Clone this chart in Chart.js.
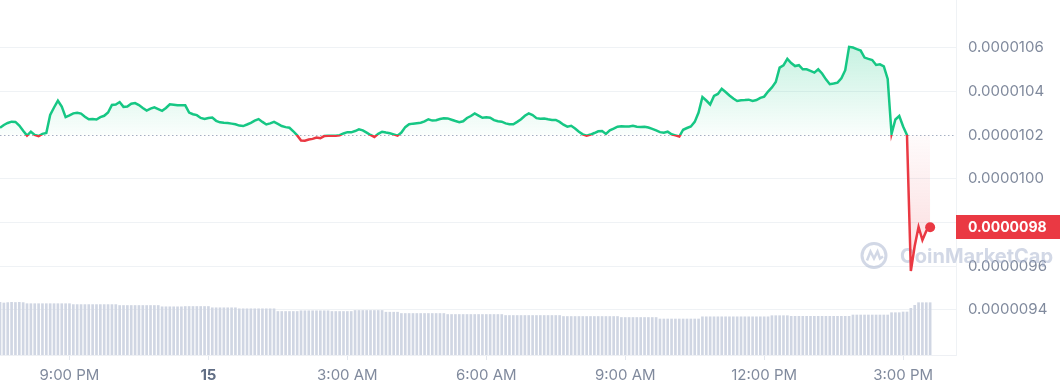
<!DOCTYPE html>
<html>
<head>
<meta charset="utf-8">
<script src="https://cdn.jsdelivr.net/npm/chart.js@4.4.0/dist/chart.umd.min.js"></script>
<style>
    html, body { margin: 0; padding: 0; background: #ffffff; }
    #wrap { width: 1060px; height: 390px; }
</style>
</head>
<body>
<div id="wrap"><canvas id="price-chart" width="1060" height="390"></canvas></div>
<script>
// Prix en nano-unités (1e-9), un point toutes les 5 minutes à partir de 19:30
const priceNano = [
    10234, 10247, 10256, 10262, 10261, 10244, 10220, 10198, 10216, 10201,
    10196, 10206, 10210, 10293, 10327, 10358, 10331, 10283, 10291, 10300,
    10303, 10299, 10285, 10273, 10274, 10272, 10283, 10289, 10304, 10339,
    10341, 10352, 10330, 10331, 10344, 10347, 10338, 10325, 10313, 10322,
    10328, 10320, 10312, 10325, 10342, 10340, 10337, 10337, 10337, 10304,
    10296, 10292, 10279, 10274, 10279, 10281, 10266, 10259, 10257, 10256,
    10253, 10250, 10244, 10242, 10249, 10257, 10267, 10274, 10261, 10249,
    10254, 10261, 10252, 10242, 10237, 10234, 10218, 10199, 10176, 10175,
    10180, 10183, 10189, 10186, 10196, 10197, 10198, 10198, 10200, 10208,
    10214, 10213, 10219, 10227, 10222, 10212, 10201, 10192, 10206, 10216,
    10212, 10209, 10204, 10198, 10212, 10237, 10250, 10253, 10255, 10257,
    10263, 10273, 10267, 10269, 10274, 10278, 10277, 10271, 10265, 10260,
    10264, 10279, 10288, 10300, 10290, 10280, 10282, 10280, 10269, 10264,
    10262, 10254, 10250, 10250, 10261, 10273, 10289, 10300, 10292, 10278,
    10275, 10277, 10273, 10270, 10270, 10261, 10248, 10239, 10243, 10231,
    10216, 10204, 10198, 10203, 10210, 10218, 10219, 10206, 10222, 10230,
    10239, 10241, 10240, 10240, 10243, 10239, 10238, 10239, 10235, 10229,
    10222, 10214, 10211, 10216, 10204, 10199, 10194, 10225, 10233, 10240,
    10261, 10304, 10375, 10359, 10341, 10380, 10389, 10413, 10398, 10382,
    10368, 10357, 10360, 10361, 10363, 10357, 10361, 10371, 10377, 10400,
    10419, 10444, 10510, 10520, 10550, 10531, 10517, 10521, 10502, 10502,
    10495, 10487, 10502, 10483, 10456, 10434, 10437, 10441, 10461, 10498,
    10605, 10602, 10595, 10588, 10556, 10550, 10545, 10522, 10525, 10516,
    10458, 10206, 10272, 10288, 10240, 10201, 9577, 9692, 9779, 9719,
    9761, 9778
];

// Volume (unités relatives), même pas de 5 minutes
const volumes = [
    52.6, 52.0, 52.4, 52.7, 52.5, 52.7, 52.4, 51.3, 51.3, 51.3,
    51.3, 51.3, 51.3, 51.3, 51.3, 51.3, 51.3, 51.3, 51.3, 50.4,
    50.4, 50.4, 50.4, 50.4, 50.4, 50.4, 50.4, 50.4, 50.4, 50.4,
    50.4, 49.5, 49.5, 49.5, 49.5, 49.5, 49.5, 49.5, 49.5, 49.5,
    49.5, 49.5, 48.2, 48.2, 48.2, 48.2, 48.2, 48.2, 48.5, 48.5,
    48.5, 48.5, 48.5, 48.5, 48.5, 47.2, 47.2, 47.2, 47.2, 47.2,
    47.2, 47.2, 46.2, 46.2, 46.2, 46.2, 46.2, 46.2, 46.2, 46.2,
    46.2, 46.2, 43.5, 43.5, 43.5, 43.5, 43.5, 43.5, 44.2, 44.2,
    44.2, 44.2, 44.2, 44.2, 44.2, 44.2, 43.5, 43.5, 43.5, 43.5,
    43.5, 43.5, 44.5, 44.5, 44.5, 44.5, 44.5, 44.5, 44.5, 44.5,
    42.8, 42.8, 42.8, 42.8, 41.5, 41.5, 41.5, 41.5, 41.5, 41.5,
    41.5, 41.5, 41.5, 41.5, 41.5, 41.5, 40.5, 40.5, 40.5, 40.5,
    40.5, 40.5, 40.5, 40.5, 40.5, 40.5, 40.5, 40.5, 40.5, 40.5,
    40.5, 39.5, 39.5, 39.5, 39.5, 39.5, 39.5, 39.5, 39.5, 39.5,
    39.5, 39.5, 39.5, 39.5, 39.5, 39.5, 38.5, 38.5, 38.5, 38.5,
    38.5, 38.5, 38.5, 38.5, 38.5, 38.5, 38.5, 38.5, 38.5, 38.5,
    38.5, 37.5, 37.5, 37.5, 37.5, 37.5, 37.5, 37.5, 37.5, 37.5,
    37.5, 36.0, 36.0, 36.0, 36.0, 36.0, 36.0, 36.0, 36.0, 36.0,
    36.0, 36.0, 38.2, 38.2, 38.2, 38.2, 38.2, 38.2, 38.2, 38.2,
    38.2, 38.2, 38.2, 38.2, 38.2, 38.2, 38.2, 38.2, 38.2, 38.2,
    39.3, 39.3, 39.3, 39.3, 39.3, 38.7, 38.7, 38.7, 38.7, 38.7,
    38.7, 38.7, 38.7, 38.7, 38.7, 38.7, 38.7, 38.7, 38.7, 38.7,
    38.7, 40.0, 40.0, 40.0, 40.0, 40.0, 40.0, 40.0, 40.0, 40.0,
    40.0, 42.3, 42.3, 42.3, 43.0, 43.0, 46.7, 49.7, 52.3, 52.3,
    52.3, 52.3
];

// Prix d'ouverture (ligne pointillée) et graduations
const basePrice = 10200;
const priceTicks = [9400, 9600, 9800, 10000, 10200, 10400, 10600];
const timeTickIndex = [18, 54, 90, 126, 162, 198, 234];
const timeTickLabels = ['9:00 PM', '15', '3:00 AM', '6:00 AM', '9:00 AM', '12:00 PM', '3:00 PM'];

const GREEN = '#16c784';
const RED = '#ea3943';
const AXIS_TEXT = '#808a9d';
const FONT_FAMILY = 'Inter, "Noto Sans", sans-serif';

/**
 * Position relative (0..1) d'une valeur de prix dans la zone du graphique
 */
function relY(chart, value) {
    const { chartArea, scales } = chart;
    const y = scales.y.getPixelForValue(value);
    const r = (y - chartArea.top) / (chartArea.bottom - chartArea.top);
    return Math.min(1, Math.max(0, r));
}

/**
 * Couleur de ligne : vert au-dessus du prix d'ouverture, rouge en dessous
 */
function lineGradient(context) {
    const chart = context.chart;
    const { ctx, chartArea } = chart;
    if (!chartArea) return GREEN;
    const g = ctx.createLinearGradient(0, chartArea.top, 0, chartArea.bottom);
    const b = relY(chart, basePrice);
    g.addColorStop(0, GREEN);
    g.addColorStop(b, GREEN);
    g.addColorStop(b, RED);
    g.addColorStop(1, RED);
    return g;
}

/**
 * Remplissage : dégradé vert au-dessus, rose en dessous
 */
function fillGradient(context) {
    const chart = context.chart;
    const { ctx, chartArea } = chart;
    if (!chartArea) return 'rgba(22,199,132,0.1)';
    const g = ctx.createLinearGradient(0, chartArea.top, 0, chartArea.bottom);
    const b = relY(chart, basePrice);
    g.addColorStop(0, 'rgba(22,199,132,0.26)');
    g.addColorStop(relY(chart, 10600), 'rgba(22,199,132,0.24)');
    g.addColorStop(b, 'rgba(22,199,132,0.02)');
    g.addColorStop(b, 'rgba(234,57,67,0.02)');
    g.addColorStop(relY(chart, 9800), 'rgba(234,57,67,0.13)');
    g.addColorStop(1, 'rgba(234,57,67,0.02)');
    return g;
}

// Ligne pointillée du prix d'ouverture + filigrane
const backgroundPlugin = {
    id: 'background',
    beforeDatasetsDraw(chart) {
        const { ctx, chartArea, scales } = chart;
        const y = Math.round(scales.y.getPixelForValue(basePrice)) + 0.5;

        ctx.save();
        ctx.strokeStyle = '#a6b0c3';
        ctx.lineWidth = 1;
        ctx.setLineDash([1.5, 2.5]);
        ctx.beginPath();
        ctx.moveTo(chartArea.left, y);
        ctx.lineTo(chartArea.right, y);
        ctx.stroke();
        ctx.setLineDash([]);

        // Filigrane CoinMarketCap
        const wmColor = 'rgba(165,177,205,0.5)';
        const cx = 874, cy = 255.5;
        ctx.strokeStyle = wmColor;
        ctx.lineWidth = 3;
        ctx.beginPath();
        ctx.arc(cx, cy, 12, 0, Math.PI * 2);
        ctx.stroke();
        ctx.lineWidth = 2.5;
        ctx.beginPath();
        ctx.moveTo(cx - 7, cy + 5);
        ctx.lineTo(cx - 3.5, cy - 4);
        ctx.lineTo(cx, cy + 3);
        ctx.lineTo(cx + 3.5, cy - 4);
        ctx.lineTo(cx + 6, cy + 3);
        ctx.lineTo(cx + 9, cy + 1);
        ctx.stroke();

        ctx.fillStyle = wmColor;
        ctx.font = 'bold 20px ' + FONT_FAMILY;
        ctx.textBaseline = 'alphabetic';
        ctx.textAlign = 'left';
        ctx.fillText('CoinMarketCap', 900, 263);
        ctx.restore();
    }
};

// Étiquette du dernier prix sur l'axe de droite
const lastPricePlugin = {
    id: 'lastPrice',
    afterDraw(chart) {
        const { ctx, chartArea, scales } = chart;
        const last = priceNano[priceNano.length - 1];
        const y = scales.y.getPixelForValue(last);
        ctx.save();
        ctx.fillStyle = RED;
        ctx.fillRect(chartArea.right, Math.round(y - 12), chart.width - chartArea.right, 24);
        ctx.fillStyle = '#ffffff';
        ctx.font = 'bold 14px ' + FONT_FAMILY;
        ctx.textBaseline = 'middle';
        ctx.textAlign = 'left';
        ctx.fillText((last / 1e9).toFixed(7), chartArea.right + 12, Math.round(y) + 0.5);
        ctx.restore();
    }
};

const lastIndex = priceNano.length - 1;

const ctx = document.getElementById('price-chart').getContext('2d');
const priceChart = new Chart(ctx, {
    data: {
        datasets: [
            {
                type: 'line',
                label: 'Prix',
                data: priceNano.map((v, i) => ({ x: i, y: v })),
                yAxisID: 'y',
                borderColor: lineGradient,
                backgroundColor: fillGradient,
                borderWidth: 2.5,
                tension: 0,
                fill: { value: basePrice },
                pointRadius: c => (c.dataIndex === lastIndex ? 5 : 0),
                pointBackgroundColor: RED,
                pointBorderWidth: 0,
                order: 1
            },
            {
                type: 'bar',
                label: 'Volume',
                data: volumes.map((v, i) => ({ x: i, y: v })),
                yAxisID: 'yVol',
                backgroundColor: '#d0d6e3',
                barThickness: 2,
                order: 2
            }
        ]
    },
    options: {
        responsive: false,
        animation: false,
        events: [],
        layout: { padding: 0, autoPadding: false },
        plugins: {
            legend: { display: false },
            tooltip: { enabled: false }
        },
        scales: {
            x: {
                type: 'linear',
                min: 0,
                max: 247.7,
                offset: false,
                afterBuildTicks: scale => {
                    scale.ticks = timeTickIndex.map(v => ({ value: v }));
                },
                afterFit: scale => {
                    scale.height = 35;
                    scale.paddingLeft = 0;
                    scale.paddingRight = 0;
                },
                ticks: {
                    autoSkip: false,
                    maxRotation: 0,
                    padding: 6,
                    color: c => (c.index === 1 ? '#616e85' : AXIS_TEXT),
                    font: c => ({
                        family: FONT_FAMILY,
                        size: 15,
                        weight: c.index === 1 ? 'bold' : 'normal'
                    }),
                    callback: (value, index) => timeTickLabels[index]
                },
                grid: {
                    offset: false,
                    drawOnChartArea: false,
                    drawTicks: true,
                    tickLength: 5,
                    color: '#e3e7ee'
                },
                border: { display: true, color: '#eef0f4' }
            },
            y: {
                position: 'right',
                min: 9192,
                max: 10820,
                afterBuildTicks: scale => {
                    scale.ticks = priceTicks.map(v => ({ value: v }));
                },
                afterFit: scale => {
                    scale.width = 104;
                    scale.paddingTop = 0;
                    scale.paddingBottom = 0;
                },
                ticks: {
                    padding: 12,
                    color: AXIS_TEXT,
                    font: { family: FONT_FAMILY, size: 15 },
                    callback: value => (value / 1e9).toFixed(7)
                },
                grid: {
                    drawTicks: false,
                    color: c => (c.tick && c.tick.value === basePrice ? 'rgba(0,0,0,0)' : '#eff2f5')
                },
                border: { display: true, color: '#eff2f5' }
            },
            yVol: {
                display: false,
                min: 0,
                max: 355
            }
        }
    },
    plugins: [backgroundPlugin, lastPricePlugin]
});
</script>
</body>
</html>
